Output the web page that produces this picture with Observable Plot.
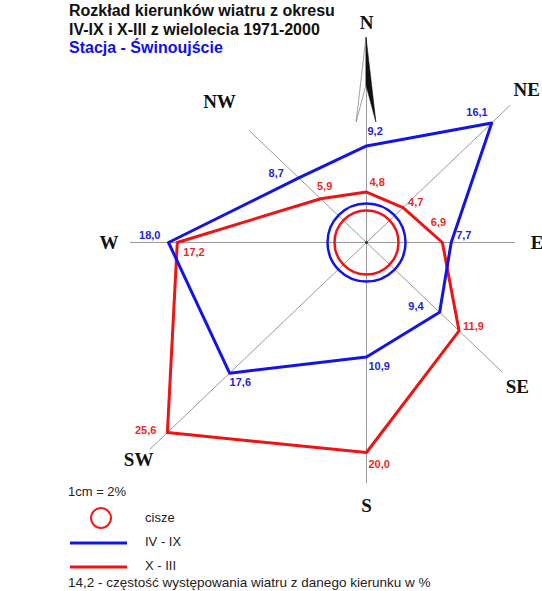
<!DOCTYPE html>
<html>
<head>
<meta charset="utf-8">
<script src="https://cdn.jsdelivr.net/npm/d3@7"></script>
<script src="https://cdn.jsdelivr.net/npm/@observablehq/plot@0.6"></script>
<style>
  body { margin: 0; background: #fff; }
  #wrap { position: relative; width: 542px; height: 591px; overflow: hidden; font-family: "Liberation Sans", Arial, sans-serif; }
  #wrap svg.plot { position: absolute; left: 0; top: 0; }
  .abs { position: absolute; white-space: nowrap; }
  .title { font-weight: bold; font-size: 16px; line-height: 18.5px; }
  .leg { font-size: 13px; line-height: 15px; color: #222; }
</style>
</head>
<body>
<div id="wrap">
  <div class="abs title" style="left:69px; top:2px;">
    <div style="color:#111;">Rozkład kierunków wiatru z okresu</div>
    <div style="color:#111;">IV-IX i X-III z wielolecia 1971-2000</div>
    <div style="color:#1010e8;">Stacja - Świnoujście</div>
  </div>
  <div class="abs leg" style="left:68px; top:484px;">1cm = 2%</div>
  <svg class="abs" style="left:60px; top:505px;" width="80" height="70">
    <circle cx="41" cy="13" r="10" fill="none" stroke="#ee1c1c" stroke-width="2"/>
    <line x1="10" x2="67" y1="38" y2="38" stroke="#1414e6" stroke-width="3"/>
    <line x1="10" x2="67" y1="62" y2="62" stroke="#ee1414" stroke-width="3"/>
  </svg>
  <div class="abs leg" style="left:145px; top:510px;">cisze</div>
  <div class="abs leg" style="left:145px; top:534px;">IV - IX</div>
  <div class="abs leg" style="left:145px; top:558px;">X - III</div>
  <div class="abs leg" style="left:68px; top:575px; font-size:13.5px;">14,2 - częstość występowania wiatru z danego kierunku w %</div>
</div>
<script>
// ---- data ----
const directions = ["N", "NE", "E", "SE", "S", "SW", "W", "NW"];
const angles = [0, 45, 90, 135, 180, 225, 270, 315];
const summer = [9.2, 16.1, 7.7, 9.4, 10.9, 17.6, 18.0, 8.7];   // IV - IX
const winter = [4.8, 4.7, 6.9, 11.9, 20.0, 25.6, 17.2, 5.9];   // X - III
const axisLength = [19.0, 18.5, 13.5, 17.5, 22.9, 27.9, 21.5, 15.1];
const dirLabelRadius = [20.9, 20.6, 15.5, 19.4, 25.1, 29.3, 23.4, 18.9];
const seriesNames = ["IV - IX", "X - III"];

// ---- layout ----
const W = 542, H = 591, CX = 366, CY = 242, KX = 11, KY = 10.5;
const BLUE = "#1414e6", RED = "#ee1414", BLUE_T = "#2424dc", RED_T = "#e82a2a";

const rad = a => a * Math.PI / 180;
const px = (v, a) => v * Math.sin(rad(a));
const py = (v, a) => v * Math.cos(rad(a));

const pts = (vals) => vals.map((v, i) => ({dir: directions[i], v, x: px(v, angles[i]), y: py(v, angles[i])}));
const sPts = pts(summer), wPts = pts(winter);
const axes = directions.map((d, i) => ({dir: d, x: px(axisLength[i], angles[i]), y: py(axisLength[i], angles[i])}));
const dirLabels = directions.map((d, i) => ({dir: d, x: px(dirLabelRadius[i], angles[i]), y: py(dirLabelRadius[i], angles[i])}));
const fmt = v => v.toFixed(1).replace(".", ",");

// pixel offsets for value labels [dx, dy, anchor]
const sOff = {N:[1,-14,"start"], NE:[-4,-10,"end"], E:[5,-7,"start"], SE:[-16,-6,"end"], S:[2,10,"start"], SW:[0,9,"start"], W:[-8,-7,"end"], NW:[-15,-4,"end"]};
const wOff = {N:[3,-10,"start"], NE:[5,-5,"start"], E:[-4,-20,"middle"], SE:[4,-4,"start"], S:[2,12,"start"], SW:[-11,-2,"end"], W:[6,10,"start"], NW:[4,-12,"middle"]};

function labelMarks(data, off, color) {
  return data.map(d => {
    const [dx, dy, anchor] = off[d.dir];
    return Plot.text([d], {x: "x", y: "y", text: q => fmt(q.v), dx, dy, textAnchor: anchor,
      fill: color, fontSize: 11, fontWeight: "bold", fontFamily: "Liberation Sans, Arial, sans-serif"});
  });
}

function needle(index, {x, y}) {
  const cx = x(0), tip = y(19.5), notch = y(14.95), bottom = y(11.43), hw = x(0.9) - x(0);
  const g = d3.create("svg:g");
  g.append("path").attr("d", `M${cx},${tip}L${cx - hw},${bottom}L${cx},${notch}Z`)
    .attr("fill", "#fff").attr("stroke", "#888").attr("stroke-width", 0.8);
  g.append("path").attr("d", `M${cx},${tip}L${cx + hw},${bottom}L${cx},${notch}Z`)
    .attr("fill", "#111").attr("stroke", "#111").attr("stroke-width", 0.6);
  return g.node();
}

const plot = Plot.plot({
  width: W, height: H, margin: 0,
  x: {domain: [-CX / KX, (W - CX) / KX], range: [0, W], axis: null},
  y: {domain: [-(H - CY) / KY, CY / KY], range: [H, 0], axis: null},
  marks: [
    Plot.link(axes, {x1: d => 0, y1: d => 0, x2: "x", y2: "y", stroke: "#9a9a9a", strokeWidth: 1}),
    needle,
    Plot.dot([{x: 0, y: 0}], {x: "x", y: "y", r: 39, stroke: BLUE, strokeWidth: 2.5, fill: "none"}),
    Plot.dot([{x: 0, y: 0}], {x: "x", y: "y", r: 32, stroke: RED, strokeWidth: 2.5, fill: "none"}),
    Plot.dot([{x: 0, y: 0}], {x: "x", y: "y", r: 1.3, fill: "#222"}),
    Plot.line(wPts, {x: "x", y: "y", curve: "linear-closed", stroke: RED, strokeWidth: 3}),
    Plot.line(sPts, {x: "x", y: "y", curve: "linear-closed", stroke: BLUE, strokeWidth: 3}),
    ...labelMarks(sPts, sOff, BLUE_T),
    ...labelMarks(wPts, wOff, RED_T),
    Plot.text(dirLabels, {x: "x", y: "y", text: "dir", fontSize: 19, fontWeight: "bold",
      fontFamily: "Liberation Serif, Times New Roman, serif", fill: "#111"})
  ]
});
plot.classList.add("plot");
document.getElementById("wrap").prepend(plot);
</script>
</body>
</html>
